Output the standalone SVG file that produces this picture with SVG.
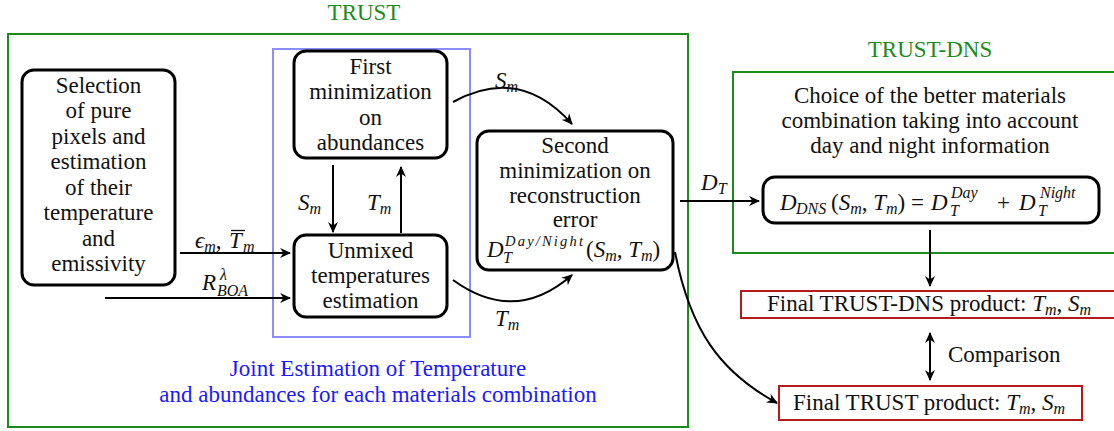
<svg xmlns="http://www.w3.org/2000/svg" width="1114" height="431" viewBox="0 0 1114 431">
<defs>
<style>
text{font-family:"Liberation Serif","DejaVu Serif","Noto Serif",serif;font-size:23px;fill:#111}
.c{text-anchor:middle}
.i{font-style:italic}
.s{font-size:16px;font-style:italic}
.node{fill:#fff;stroke:#000;stroke-width:3}
.grp{fill:none;stroke:#1a8c1a;stroke-width:2}
.blue{fill:none;stroke:#8c8cff;stroke-width:2}
.red{fill:#fff;stroke:#b31b1b;stroke-width:2}
.gt{fill:#1a8c1a}
.bt{fill:#1a1aff}
.edge{fill:none;stroke:#000;stroke-width:2}
</style>
<marker id="ah" viewBox="0 0 10 10" refX="9" refY="5" markerWidth="11" markerHeight="11" markerUnits="userSpaceOnUse" orient="auto-start-reverse">
<path d="M0,0.5 L10,5 L0,9.5 L3,5 Z" fill="#000"/>
</marker>
</defs>

<g id="trust">
<rect class="grp" x="8" y="34" width="680" height="393"/>
<text class="c gt" x="364" y="20">TRUST</text>
</g>

<g id="joint">
<rect class="blue" x="273" y="49" width="197" height="288"/>
<text class="c bt" x="378" y="376">Joint Estimation of Temperature</text>
<text class="c bt" x="378" y="402">and abundances for each materials combination</text>
</g>

<g id="trustdns">
<rect class="grp" x="733" y="72" width="400" height="181"/>
<text class="c gt" x="930" y="57">TRUST-DNS</text>
<text class="c" x="930" y="103">Choice of the better materials</text>
<text class="c" x="930" y="128">combination taking into account</text>
<text class="c" x="930" y="153">day and night information</text>
</g>

<g id="selection">
<rect class="node" x="22" y="70" width="153" height="215" rx="12"/>
<text class="c" x="98.5" y="93">Selection</text>
<text class="c" x="98.5" y="118">of pure</text>
<text class="c" x="98.5" y="144">pixels and</text>
<text class="c" x="98.5" y="169">estimation</text>
<text class="c" x="98.5" y="195">of their</text>
<text class="c" x="98.5" y="220">temperature</text>
<text class="c" x="98.5" y="246">and</text>
<text class="c" x="98.5" y="271">emissivity</text>
</g>

<g id="first">
<rect class="node" x="294" y="51" width="153" height="107" rx="12"/>
<text class="c" x="370.5" y="74">First</text>
<text class="c" x="370.5" y="99">minimization</text>
<text class="c" x="370.5" y="125">on</text>
<text class="c" x="370.5" y="150">abundances</text>
</g>

<g id="unmixed">
<rect class="node" x="294" y="235" width="153" height="82" rx="12"/>
<text class="c" x="370.5" y="258">Unmixed</text>
<text class="c" x="370.5" y="283">temperatures</text>
<text class="c" x="370.5" y="308">estimation</text>
</g>

<g id="second">
<rect class="node" x="477" y="131" width="196" height="139" rx="12"/>
<text class="c" x="575" y="153">Second</text>
<text class="c" x="575" y="178">minimization on</text>
<text class="c" x="575" y="203">reconstruction</text>
<text class="c" x="575" y="227">error</text>
<text class="i" x="487" y="257">D</text>
<text class="s" x="505" y="246" style="font-size:14.5px" textLength="78" lengthAdjust="spacing">Day/Night</text>
<text class="s" x="503" y="263">T</text>
<text x="586" y="257">(<tspan class="i">S</tspan><tspan class="s" dy="4">m</tspan><tspan dy="-4">, </tspan><tspan class="i">T</tspan><tspan class="s" dy="4">m</tspan><tspan dy="-4">)</tspan></text>
</g>

<g id="dns">
<rect class="node" x="763" y="177" width="336" height="46" rx="12"/>
<text class="i" x="780" y="210">D</text>
<text class="s" x="796" y="214">DNS</text>
<text x="831" y="210">(<tspan class="i">S</tspan><tspan class="s" dy="4">m</tspan><tspan dy="-4">, </tspan><tspan class="i">T</tspan><tspan class="s" dy="4">m</tspan><tspan dy="-4">)</tspan></text>
<text x="911" y="210">=</text>
<text class="i" x="931" y="210">D</text>
<text class="s" x="951" y="198">Day</text>
<text class="s" x="950" y="216">T</text>
<text x="997" y="210">+</text>
<text class="i" x="1019" y="210">D</text>
<text class="s" x="1040" y="198">Night</text>
<text class="s" x="1038" y="216">T</text>
</g>

<g id="final-dns">
<rect class="red" x="741" y="291" width="385" height="27"/>
<text x="767" y="311">Final TRUST-DNS product: <tspan class="i">T</tspan><tspan class="s" dy="4">m</tspan><tspan dy="-4">, </tspan><tspan class="i">S</tspan><tspan class="s" dy="4">m</tspan></text>
</g>

<g id="final-trust">
<rect class="red" x="779" y="386" width="303" height="34"/>
<text x="793" y="410">Final TRUST product: <tspan class="i">T</tspan><tspan class="s" dy="4">m</tspan><tspan dy="-4">, </tspan><tspan class="i">S</tspan><tspan class="s" dy="4">m</tspan></text>
</g>

<g id="connectors">
<path class="edge" d="M180,253 H290" marker-end="url(#ah)"/>
<path class="edge" d="M105,298 H290" marker-end="url(#ah)"/>
<path class="edge" d="M333,165 V232" marker-end="url(#ah)"/>
<path class="edge" d="M401,233 V167" marker-end="url(#ah)"/>
<path class="edge" d="M453,102 Q520,65 572,124" marker-end="url(#ah)"/>
<path class="edge" d="M453,280 Q515,325 572,275" marker-end="url(#ah)"/>
<path class="edge" d="M680,201 H759" marker-end="url(#ah)"/>
<path class="edge" d="M675,252 C690,330 720,372 777,403" marker-end="url(#ah)"/>
<path class="edge" d="M930,230 V286" marker-end="url(#ah)"/>
<path class="edge" d="M930,333 V380" marker-start="url(#ah)" marker-end="url(#ah)"/>

<text x="195" y="248"><tspan class="i">ϵ</tspan><tspan class="s" dy="4">m</tspan><tspan dy="-4">,</tspan></text>
<text class="i" x="229" y="248">T</text>
<text class="s" x="243" y="252">m</text>
<path d="M231,230.5 H245" stroke="#111" stroke-width="1.3"/>
<text class="i" x="202" y="290">R</text>
<text class="s" x="220" y="280">λ</text>
<text class="s" x="217" y="296">BOA</text>
<text x="298" y="210"><tspan class="i">S</tspan><tspan class="s" dy="4">m</tspan></text>
<text x="367" y="210"><tspan class="i">T</tspan><tspan class="s" dy="4">m</tspan></text>
<text x="495" y="88"><tspan class="i">S</tspan><tspan class="s" dy="4">m</tspan></text>
<text x="495" y="326"><tspan class="i">T</tspan><tspan class="s" dy="4">m</tspan></text>
<text x="701" y="190"><tspan class="i">D</tspan><tspan class="s" dy="4">T</tspan></text>
<text x="948" y="362">Comparison</text>
</g>
</svg>
